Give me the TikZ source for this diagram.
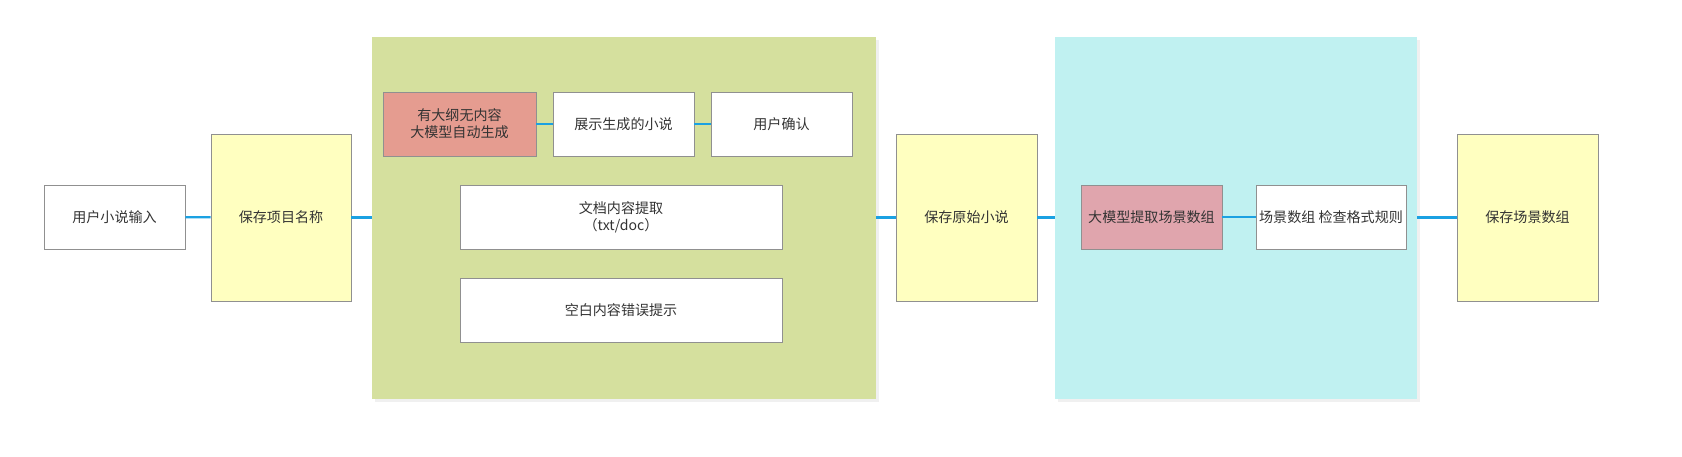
\documentclass[tikz,border=0pt]{standalone}
\usepackage{fontspec}
\setmainfont{Noto Sans CJK SC}
\usetikzlibrary{shadows}
\definecolor{boxline}{RGB}{144,144,144}
\definecolor{txt}{RGB}{51,51,51}
\definecolor{storefill}{RGB}{255,255,192}
\definecolor{greenpanel}{RGB}{213,224,158}
\definecolor{cyanpanel}{RGB}{192,241,241}
\definecolor{salmon}{RGB}{229,156,144}
\definecolor{pinkbox}{RGB}{224,165,173}
\definecolor{linkblue}{RGB}{27,161,226}

\begin{document}
\begin{tikzpicture}[x=0.025cm,y=-0.025cm,
  box/.style={draw=boxline,line width=0.6pt,fill=white,text=txt,inner sep=1pt,
    font=\fontsize{10}{12}\selectfont,align=center,minimum height=1.6cm},
  store/.style={box,fill=storefill,minimum width=3.525cm,minimum height=4.175cm},
  panel/.style={draw=none,drop shadow={shadow xshift=2pt,shadow yshift=-2pt,opacity=.12}},
  link/.style={draw=linkblue,line width=1.6pt}]
\useasboundingbox (0,0) rectangle (1682,457);

% the two groups
\node[panel,fill=greenpanel,minimum width=12.6cm,minimum height=9.05cm] (gen) at (624,218) {};
\node[panel,fill=cyanpanel,minimum width=9.05cm,minimum height=9.05cm] (scene) at (1236,218) {};

\node[box,minimum width=3.525cm] (input) at (114.5,217) {用户小说输入};
\node[store,minimum width=3.5cm] (saveName) at (281,217.5) {保存项目名称};

\node[box,fill=salmon,minimum width=3.825cm] (outline) at (459.5,124) {有大纲无内容\\大模型自动生成};
\node[box,minimum width=3.525cm] (show) at (623.5,124) {展示生成的小说};
\node[box,minimum width=3.525cm] (confirm) at (781.5,124) {用户确认};
\node[box,minimum width=8.05cm] (extract) at (621,217) {文档内容提取\\（txt/doc）};
\node[box,minimum width=8.05cm] (empty) at (621,310) {空白内容错误提示};

\node[store] (saveRaw) at (966.5,217.5) {保存原始小说};

\node[box,fill=pinkbox,minimum width=3.525cm] (llm) at (1151.5,217) {大模型提取场景数组};
\node[box,minimum width=3.75cm] (check) at (1331,217) {场景数组 检查格式规则};

\node[store] (saveScene) at (1527.5,217.5) {保存场景数组};

\draw[link] (input) -- (saveName);
\draw[link] (saveName) -- (saveName -| gen.west);
\draw[link] (gen.east |- saveRaw) -- (saveRaw);
\draw[link] (saveRaw) -- (saveRaw -| scene.west);
\draw[link] (outline) -- (show);
\draw[link] (show) -- (confirm);
\draw[link] (llm) -- (check);
\draw[link] (scene.east |- saveScene) -- (saveScene);
\end{tikzpicture}
\end{document}
